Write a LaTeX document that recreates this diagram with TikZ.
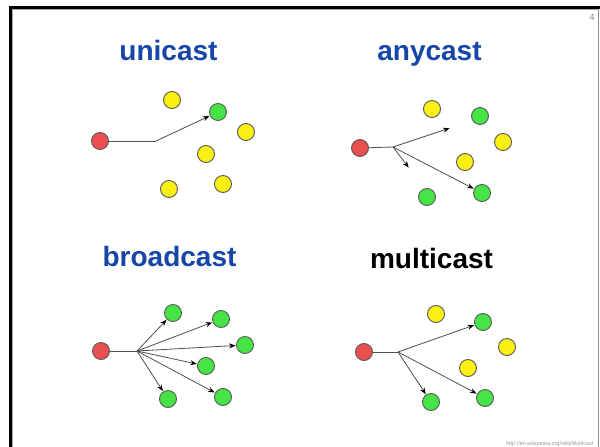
\documentclass[tikz,border=0pt]{standalone}
\usepackage{fontspec}
\setmainfont{Liberation Sans}
\usetikzlibrary{arrows.meta}
\definecolor{titleblue}{RGB}{22,70,168}
\definecolor{hostred}{RGB}{235,80,80}
\definecolor{hostyellow}{RGB}{250,240,20}
\definecolor{hostgreen}{RGB}{70,228,70}
\definecolor{wire}{RGB}{80,80,80}
\begin{document}
\begin{tikzpicture}[x=1pt,y=-1pt,
  host/.style={circle,inner sep=0pt,minimum size=17pt,draw=black!65,line width=0.9pt},
  src/.style={host,fill=hostred},
  idle/.style={host,fill=hostyellow},
  dst/.style={host,fill=hostgreen},
  link/.style={draw=wire,line width=0.8pt},
  send/.style={link,-{Stealth[length=6.5pt,width=5pt,color=black]},shorten >=0.5pt},
  title/.style={font=\bfseries\fontsize{28}{30}\selectfont,anchor=base}]
\useasboundingbox (0,0) rectangle (600,447);
% slide frame
\fill[white] (0,0) rectangle (600,447);
\fill[black] (9,6) rectangle (600,9);
\fill[black] (9,6) rectangle (12,447);
\draw[black!35,line width=0.6pt] (12.5,447) -- (12.5,9.5) -- (598,9.5);
\draw[black!45,line width=0.8pt] (598.5,9) -- (598.5,447);
\node[text=black!45,font=\fontsize{9}{10}\selectfont] (pg) at (592,17) {4};
\node[text=black!40,font=\fontsize{5.5}{6}\selectfont,anchor=base east] (url) at (597,445) {http://en.wikipedia.org/wiki/Multicast};

% unicast
\node[title,text=titleblue] (tu) at (168.5,60) {unicast};
\node[src] (ur) at (100,141) {};
\node[idle] (uy1) at (172,100) {};
\node[dst] (ug) at (218,112) {};
\node[idle] (uy2) at (246,132) {};
\node[idle] (uy3) at (206,154) {};
\node[idle] (uy4) at (169,189) {};
\node[idle] (uy5) at (223,184) {};
\coordinate (ub) at (156,141);
\draw[link] (ur) -- (ub);
\draw[send] (ub) -- (ug);

% anycast
\node[title,text=titleblue] (ta) at (429.5,60) {anycast};
\node[src] (ar) at (360,148) {};
\node[idle] (ay1) at (432,109) {};
\node[dst] (ag1) at (480,116) {};
\node[idle] (ay2) at (503,142) {};
\node[idle] (ay3) at (465,162) {};
\node[dst] (ag2) at (427,197) {};
\node[dst] (ag3) at (482,193) {};
\coordinate (ab) at (393,147);
\coordinate (aend1) at (450,128);
\coordinate (aend2) at (409,168);
\draw[link] (ar) -- (ab);
\draw[send] (ab) -- (aend1);
\draw[send] (ab) -- (aend2);
\draw[send] (ab) -- (ag3);

% broadcast
\node[title,text=titleblue] (tb) at (169.5,266) {broadcast};
\node[src] (br) at (101,351) {};
\node[dst] (bg1) at (173,313) {};
\node[dst] (bg2) at (221,319) {};
\node[dst] (bg3) at (245,345) {};
\node[dst] (bg4) at (206,366) {};
\node[dst] (bg5) at (168,399) {};
\node[dst] (bg6) at (223,397) {};
\coordinate (bb) at (137,351);
\draw[link] (br) -- (bb);
\foreach \g in {bg1,bg2,bg3,bg4,bg5,bg6} \draw[send] (bb) -- (\g);

% multicast
\node[title,text=black] (tm) at (431.5,268) {multicast};
\node[src] (mr) at (364,352) {};
\node[idle] (my1) at (436,314) {};
\node[dst] (mg1) at (483,322) {};
\node[idle] (my2) at (507,347) {};
\node[idle] (my3) at (468,368) {};
\node[dst] (mg2) at (431,402) {};
\node[dst] (mg3) at (485,398) {};
\coordinate (mb) at (398,352);
\draw[link] (mr) -- (mb);
\foreach \g in {mg1,mg2,mg3} \draw[send] (mb) -- (\g);
\end{tikzpicture}
\end{document}
